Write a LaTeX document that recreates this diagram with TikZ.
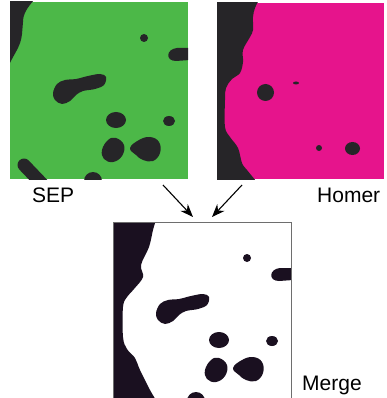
\documentclass[tikz,border=0pt]{standalone}
\usepackage{fontspec}
\setmainfont{Liberation Sans}
\usetikzlibrary{arrows.meta}
\definecolor{sepgreen}{RGB}{76,184,72}
\definecolor{homerpink}{RGB}{230,20,140}
\definecolor{darkgrey}{RGB}{38,37,40}
\definecolor{mergeblack}{RGB}{26,16,32}
\definecolor{framegrey}{RGB}{110,110,110}
\newcommand\sepblobs[1]{%
  % top-left dark region
  \fill[#1] (10,0) -- (34,0) .. controls (27,8) and (23,14) .. (23,22) -- (22,34) .. controls (21,46) and (14,54) .. (10,63) -- cycle;
  \fill[#1] (144,38) circle[radius=4pt];
  \fill[#1] (190,48) -- (177,48) .. controls (166,49) and (165,61) .. (176,61) -- (190,60) -- cycle;
  \fill[#1] plot[smooth cycle, tension=0.6] coordinates {(53,93) (57,84) (65,80) (76,79) (88,76) (100,74) (106,77) (104,85) (95,89) (83,91) (76,95) (70,101) (62,104) (55,100)};
  \fill[#1] (116,120) circle[x radius=10pt, y radius=8pt];
  \fill[#1] (169,121) circle[x radius=6pt, y radius=5pt];
  \fill[#1] plot[smooth cycle, tension=0.7] coordinates {(102,150) (108,140) (116,138) (124,145) (122,156) (113,162) (104,159)};
  \fill[#1] plot[smooth cycle, tension=0.7] coordinates {(130,148) (139,140) (150,137) (159,142) (160,153) (153,161) (143,160) (136,155)};
  \draw[#1, line width=13pt, line cap=round] (24,165) -- (46,188);
  \fill[#1] (93,181) circle[radius=9pt];
}
\begin{document}
\begin{tikzpicture}[x=1pt, y=-1pt,
  lbl/.style={font=\fontsize{21}{25}\selectfont, inner sep=0pt, anchor=base west},
  arr/.style={line width=1.1pt, -{Stealth[length=13pt, width=10pt]}}]
\useasboundingbox (0,0) rectangle (386,398);

% SEP panel
\begin{scope}
  \clip (10,2) rectangle (188,179);
  \fill[sepgreen] (10,2) rectangle (188,179);
  \sepblobs{darkgrey}
\end{scope}

% Homer panel
\begin{scope}
  \clip (217,3) rectangle (384,179);
  \fill[homerpink] (217,3) rectangle (384,179);
  \fill[darkgrey] (217,0) -- plot[smooth, tension=0.6] coordinates {(259,0) (255,8) (253,17) (253,30) (250,37) (243,50) (243,62) (240,73) (232,79) (226,88) (225,100) (225,127) (230,137) (238,148) (242,163) (247,170) (256,181)} -- (217,181) -- cycle;
  \fill[darkgrey] (265.5,92.5) circle[radius=8.5pt];
  \fill[darkgrey] (296,83) circle[x radius=3pt, y radius=1.5pt];
  \fill[darkgrey] (319,148) circle[radius=3pt];
  \fill[darkgrey] (352.5,148.5) circle[x radius=7.5pt, y radius=6.5pt];
\end{scope}

% Merge panel
\begin{scope}
  \clip (113,222) rectangle (291,400);
  \fill[white] (113,222) rectangle (291,400);
  \begin{scope}[shift={(103,220)}]
    \sepblobs{mergeblack}
  \end{scope}
  \fill[mergeblack] (113,220) -- plot[smooth, tension=0.6] coordinates {(156,220) (153,230) (149,247) (141,265) (143,277) (134,289) (127,297) (123,307) (123,337) (127,349) (135,358) (140,370) (150,390) (156,400)} -- (113,400) -- cycle;
\end{scope}
\draw[framegrey, line width=1pt] (113,400) -- (113,222) -- (291,222) -- (291,400);

% labels
\node[lbl] (sep) at (32,202) {SEP};
\node[lbl] (homer) at (317,202) {Homer};
\node[lbl] (merge) at (302,390) {Merge};

% arrows
\coordinate (a1s) at (163,185);
\coordinate (a1e) at (193,217);
\coordinate (a2s) at (242,185);
\coordinate (a2e) at (212,217);
\draw[arr] (a1s) -- (a1e);
\draw[arr] (a2s) -- (a2e);
\end{tikzpicture}
\end{document}
